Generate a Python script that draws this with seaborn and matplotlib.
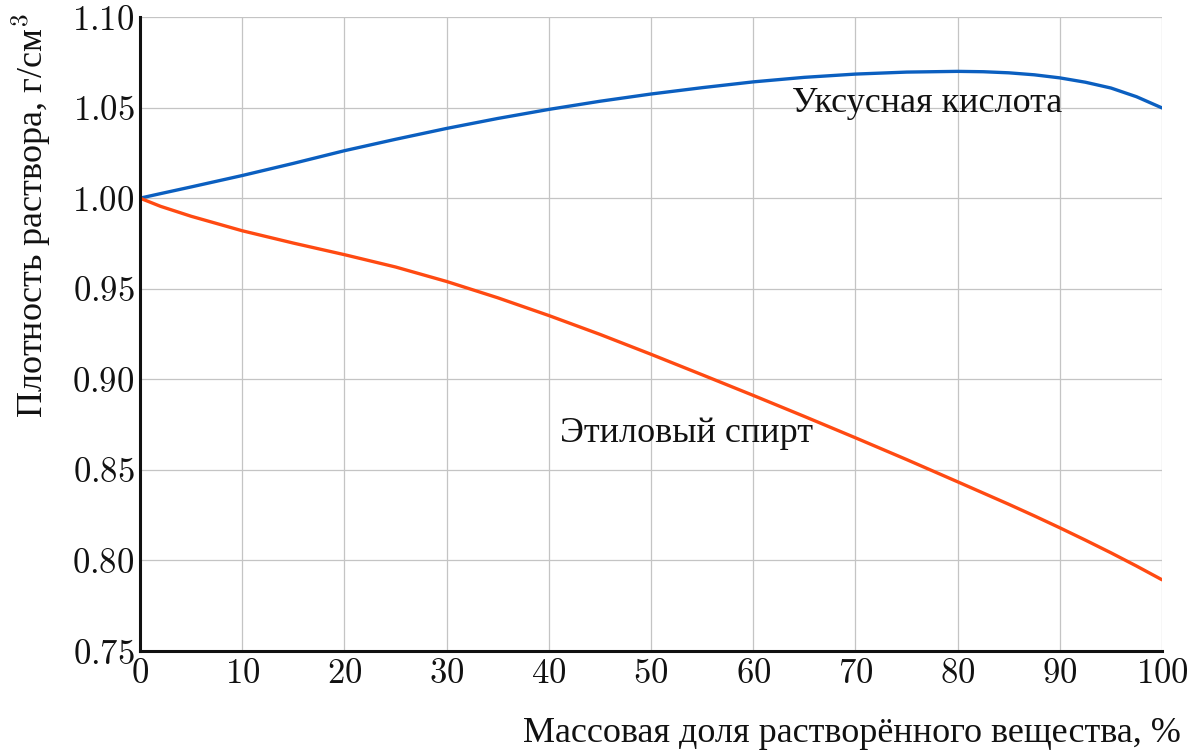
import pandas as pd
import matplotlib.pyplot as plt
import matplotlib.ticker as mticker
import seaborn as sns

# Mass fraction of solute, %
mass_fraction = [0, 2, 5, 10, 15, 20, 25, 30, 35, 40, 45, 50, 55, 60,
                 65, 70, 75, 80, 82.5, 85, 87.5, 90, 92.5, 95, 97.5, 100]

# Density, g/cm3
acetic_density = [1.000, 1.0025, 1.0062, 1.0125, 1.0192, 1.0262, 1.0325, 1.0385,
                  1.0440, 1.0490, 1.0535, 1.0575, 1.0610, 1.0642, 1.0667, 1.0685,
                  1.0696, 1.0700, 1.0698, 1.0692, 1.0681, 1.0664, 1.0640, 1.0608,
                  1.0560, 1.0498]
ethanol_density = [1.000, 0.9955, 0.9900, 0.9820, 0.9752, 0.9688, 0.9620, 0.9540,
                   0.9450, 0.9352, 0.9248, 0.9138, 0.9025, 0.8911, 0.8795, 0.8677,
                   0.8557, 0.8434, 0.8372, 0.8310, 0.8246, 0.8180, 0.8112, 0.8042,
                   0.7969, 0.7893]

acetic_name = "Уксусная кислота"
ethanol_name = "Этиловый спирт"

x_ticks = [0, 10, 20, 30, 40, 50, 60, 70, 80, 90, 100]
y_ticks = [0.75, 0.80, 0.85, 0.90, 0.95, 1.00, 1.05, 1.10]

df = pd.DataFrame({
    "x": mass_fraction * 2,
    "density": acetic_density + ethanol_density,
    "series": [acetic_name] * len(mass_fraction) + [ethanol_name] * len(mass_fraction),
})

sns.set_theme(style="white")
plt.rcParams["font.family"] = ["Liberation Serif", "DejaVu Serif"]
plt.rcParams["mathtext.fontset"] = "cm"

fig = plt.figure(figsize=(12, 7.5), dpi=100)
ax = fig.add_axes([0.1167, 0.132, 0.8517, 0.8453])

palette = {acetic_name: "#0b5fc0", ethanol_name: "#ff4a12"}
sns.lineplot(data=df, x="x", y="density", hue="series", palette=palette,
             linewidth=2.4, legend=False, ax=ax)

ax.set_xlim(0, 100)
ax.set_ylim(0.75, 1.10)
ax.set_xticks(x_ticks)
ax.set_yticks(y_ticks)
ax.xaxis.set_major_formatter(mticker.FuncFormatter(lambda v, p: f"${v:.0f}$"))
ax.yaxis.set_major_formatter(mticker.FuncFormatter(lambda v, p: f"${v:.2f}$"))
ax.tick_params(axis="both", length=0, labelsize=25, colors="#111111")
ax.tick_params(axis="x", pad=5)
ax.tick_params(axis="y", pad=4)

ax.grid(True, color="#c4c4c4", linewidth=0.9)
for side in ["top", "right"]:
    ax.spines[side].set_visible(False)
for side in ["left", "bottom"]:
    ax.spines[side].set_color("#111111")
    ax.spines[side].set_linewidth(2.2)
ax.set_xlabel("")
ax.set_ylabel("")

ax.text(77, 1.052, acetic_name, fontsize=26, ha="center", va="center", color="#111111")
ax.text(53.5, 0.870, ethanol_name, fontsize=26, ha="center", va="center", color="#111111")

fig.text(0.984, 0.022, "Массовая доля растворённого вещества, %", fontsize=26,
         ha="right", va="center", color="#111111")
fig.text(0.008, 0.982, "Плотность раствора, г/см$^3$", fontsize=26,
         rotation=90, ha="left", va="top", color="#111111")

fig.savefig("out.png", dpi=100, facecolor="white")
plt.close(fig)
